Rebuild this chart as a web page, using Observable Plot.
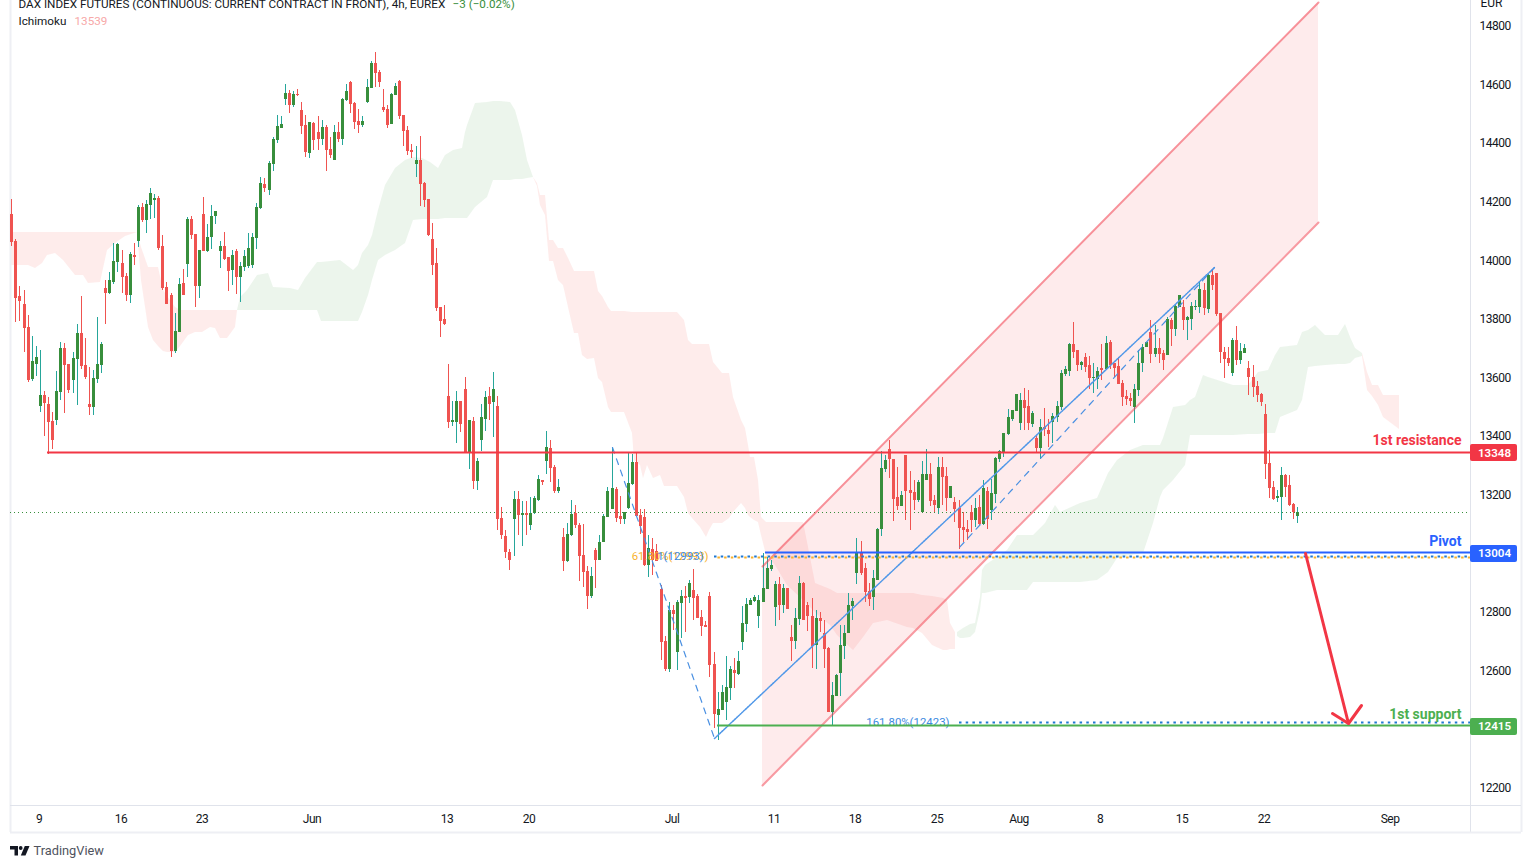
<!DOCTYPE html>
<html>
<head>
<meta charset="utf-8">
<script src="https://cdn.jsdelivr.net/npm/d3@7"></script>
<script src="https://cdn.jsdelivr.net/npm/@observablehq/plot@0.6"></script>
<style>
html,body{margin:0;padding:0;background:#fff;overflow:hidden}
svg{display:block}
g[aria-label="y-axis tick label"] text,g[aria-label="x-axis tick label"] text{letter-spacing:-.5px}
</style>
</head>
<body>
<div id="chart"></div>
<script>
// Candles as [open, high, low, close], one bar per 4h session
const candlesMay = [
[14159,14210,14050,14063],[14067,14074,13790,13872],[13879,13913,13794,13862],[13852,13899,13688,13770],[13773,13814,13586,13592],
[13596,13743,13589,13657],[13647,13708,13606,13671],[13504,13695,13483,13541],[13541,13555,13401,13514],[13511,13534,13340,13449],
[13452,13483,13357,13388],[13456,13623,13439,13555],[13552,13722,13524,13702],[13702,13719,13480,13644],[13647,13647,13548,13558],
[13592,13688,13548,13667],[13664,13784,13507,13753],[13753,13879,13630,13640],[13644,13736,13596,13603],[13511,13637,13473,13500],
[13500,13626,13473,13599],[13596,13807,13582,13647],[13644,13722,13616,13715],[13906,13934,13783,13889],[13889,13961,13885,13934],
[13927,14060,13920,13998],[13995,14060,13961,14056],[13992,14036,13889,13944],[13947,13958,13862,13882],[13882,14029,13855,14022],
[14019,14060,13985,14012],[14067,14190,14046,14183],[14183,14196,14131,14138],[14138,14207,14094,14193],[14190,14247,14142,14230],
[14207,14227,14145,14213],[14213,14220,14036,14043],[14050,14087,13899,13906],[13910,13927,13852,13852],[13882,13889,13671,13691],
[13691,13821,13685,13760],[13756,13940,13756,13920],[13923,13971,13882,13882],[13988,14149,13944,14142],[14142,14152,14074,14087],
[14091,14091,13841,13913],[13913,14036,13872,14036],[14159,14217,14033,14033],[14033,14125,14029,14080],[14080,14190,14039,14152],
[14152,14169,14125,14169],[14033,14067,13975,14050],[14050,14097,14002,14005],[14012,14012,13896,13964],[13968,14036,13917,14019],
[14033,14039,13886,13944],[13944,13995,13859,13981],[13978,14036,13964,14015],[13981,14094,13975,14043],[13985,14094,13975,14080],
[14077,14196,14039,14183],[14179,14285,14176,14265],[14261,14282,14234,14247],[14241,14340,14224,14333],[14329,14422,14305,14415],
[14411,14497,14401,14459],[14452,14493,14452,14466],[14551,14602,14531,14572],[14572,14582,14503,14531],[14531,14578,14524,14568],
[14568,14585,14561,14565],[14514,14541,14432,14459],[14462,14497,14353,14370],[14367,14473,14350,14473]
];
const candlesJune = [
[14469,14472,14378,14411],[14439,14493,14377,14415],[14415,14480,14394,14456],[14456,14462,14305,14377],[14381,14422,14350,14360],
[14343,14462,14343,14439],[14439,14473,14404,14415],[14415,14555,14394,14551],[14548,14602,14544,14578],[14609,14613,14503,14534],
[14537,14541,14449,14473],[14476,14517,14435,14462],[14462,14493,14456,14476],[14541,14619,14537,14592],[14589,14681,14589,14674],
[14674,14712,14592,14640],[14643,14650,14592,14609],[14524,14585,14507,14514],[14517,14531,14452,14462],[14466,14572,14466,14568],
[14565,14606,14565,14596],[14613,14616,14483,14493],[14497,14497,14391,14442],[14445,14459,14360,14374],[14377,14398,14350,14370],
[14329,14391,14285,14343],[14343,14425,14186,14261],[14265,14268,14183,14207],[14210,14210,14084,14087],[14074,14128,13951,13985],
[13992,14043,13828,13838],[13841,13841,13739,13794],[13800,13848,13780,13783],[13538,13647,13429,13449],[13449,13521,13435,13456],
[13449,13555,13377,13521],[13521,13521,13415,13442],[13562,13603,13343,13347],[13347,13456,13289,13456],[13452,13466,13220,13248],
[13248,13326,13217,13316],[13388,13511,13350,13466],[13459,13555,13418,13534],[13538,13569,13456,13511],[13517,13620,13398,13562],
[13504,13538,13081,13118],[13122,13158,13050,13064],[13060,13081,12985,13006],[13006,13015,12944,12978],[13118,13214,12992,13186],
[13186,13214,13064,13132],[13132,13180,13026,13139],[13139,13180,13064,13132],[13098,13193,13081,13139],[13139,13197,13135,13190],
[13183,13268,13180,13255],[13251,13251,13234,13244],[13316,13418,13272,13364],[13360,13388,13244,13292],[13296,13302,13207,13214],
[13214,13255,13207,13227],[13057,13088,12941,12975],[12975,13105,12972,13067],[13064,13183,13060,13135],[13139,13166,13086,13098],
[13098,13105,12907,12992],[12995,13101,12886,12937],[12941,12958,12811,12856],[12856,12955,12849,12924],[13013,13020,12883,12978],
[12978,13064,12978,13040],[13040,13135,13040,13128],[13125,13228,13125,13214],[13152,13363,13152,13224],[13221,13228,13108,13122],
[13128,13197,13101,13118],[13118,13142,13101,13142],[13156,13342,13152,13241],[13238,13340,13234,13313],[13313,13347,13128,13128],
[13132,13151,13067,13094],[13125,13151,12958,12961],[12961,13064,12920,13019],[13016,13053,12927,12978],[13009,13033,12975,12975],
[12879,12893,12637,12699],[12702,12720,12598,12607],[12607,12836,12596,12808]
];
const candlesJuly = [
[12808,12825,12740,12794],[12665,12842,12603,12835],[12832,12876,12711,12856],[12856,12888,12733,12849],[12852,12910,12832,12900],
[12876,12948,12774,12849],[12856,12862,12781,12781],[12784,12808,12719,12753],[12757,12770,12750,12750],[12856,12869,12579,12620],
[12624,12665,12405,12453],[12450,12528,12364,12470],[12467,12552,12467,12528],[12494,12651,12433,12545],[12542,12617,12501,12607],
[12603,12644,12542,12593],[12590,12668,12586,12634],[12699,12821,12671,12763],[12760,12849,12733,12828],[12825,12849,12825,12842],
[12839,12859,12835,12852],[12787,12859,12746,12842],[12835,13001,12835,12883],[12880,12990,12880,12951],[12948,12978,12941,12961],
[12819,12907,12753,12897],[12897,12920,12774,12825],[12825,12897,12798,12883],[12883,12883,12811,12811],[12716,12757,12634,12702],
[12702,12814,12675,12781],[12777,12924,12757,12900],[12900,12903,12774,12774],[12825,12835,12736,12787],[12787,12849,12610,12685],
[12688,12808,12606,12781],[12781,12801,12733,12770],[12729,12774,12610,12675],[12678,12683,12460,12460],[12460,12562,12416,12518],
[12515,12590,12515,12586],[12593,12757,12515,12688],[12685,12757,12641,12729],[12729,12866,12729,12825],[12821,12849,12774,12838],
[12934,13053,12897,13006],[13006,13043,12927,12934],[12951,12967,12836,12869],[12873,12899,12821,12845],[12852,12944,12808,12917],
[12910,13086,12910,13084],[13084,13350,13060,13292],[13289,13337,13279,13320],[13357,13388,13259,13323],[13323,13323,13111,13186],
[13193,13294,13149,13163],[13163,13213,13163,13199],[13336,13336,13115,13214],[13217,13282,13081,13207],[13210,13251,13149,13183],
[13183,13251,13176,13244],[13142,13316,13142,13272],[13251,13357,13251,13272],[13272,13308,13163,13180],[13183,13200,13142,13166],
[13156,13329,13135,13296],[13296,13329,13166,13262],[13265,13296,13145,13190],[13190,13231,13190,13231],[13176,13193,13109,13152],
[13156,13183,13016,13088],[13091,13142,13040,13081],[13084,13115,13047,13074],[13142,13166,13075,13115],[13115,13189,13092,13156],
[13159,13200,13098,13101],[13101,13251,13098,13224],[13214,13229,13083,13118],[13149,13255,13115,13207],[13202,13331,13172,13326],
[13323,13354,13313,13350],[13347,13413,13331,13412],[13408,13493,13405,13466],[13459,13490,13454,13490],[13487,13545,13487,13545]
];
const candlesAugust = [
[13446,13547,13422,13524],[13524,13565,13422,13497],[13504,13558,13422,13446],[13442,13487,13433,13480],[13395,13405,13342,13360],
[13360,13459,13323,13432],[13432,13497,13401,13425],[13422,13459,13365,13408],[13449,13479,13376,13470],[13466,13522,13449,13504],
[13500,13627,13490,13616],[13613,13640,13606,13630],[13623,13718,13606,13715],[13715,13790,13668,13688],[13695,13695,13623,13644],
[13644,13657,13627,13654],[13671,13683,13619,13637],[13644,13674,13561,13599],[13599,13649,13547,13603],[13596,13638,13562,13623],
[13633,13715,13592,13627],[13630,13743,13627,13719],[13722,13729,13630,13644],[13650,13651,13604,13633],[13640,13670,13579,13579],
[13582,13592,13504,13534],[13538,13558,13507,13528],[13531,13547,13504,13521],[13500,13578,13446,13562],[13558,13695,13538,13650],
[13650,13715,13620,13705],[13705,13723,13705,13722],[13756,13797,13652,13681],[13681,13780,13671,13702],[13702,13737,13652,13681],
[13685,13695,13627,13661],[13678,13807,13678,13801],[13797,13803,13708,13766],[13766,13852,13743,13845],[13842,13882,13842,13882],
[13842,13865,13763,13797],[13797,13811,13729,13807],[13801,13860,13763,13845],[13842,13865,13831,13845],[13842,13931,13820,13903],
[13900,13922,13814,13838],[13835,13954,13822,13951],[13951,13971,13900,13917],[13958,13958,13811,13818],[13820,13820,13650,13688],
[13688,13705,13599,13664],[13668,13705,13640,13650],[13616,13736,13606,13729],[13729,13777,13644,13661],[13661,13718,13647,13691],
[13685,13715,13685,13702],[13633,13657,13541,13603],[13603,13644,13536,13569],[13572,13589,13517,13541],[13545,13548,13504,13517],
[13476,13511,13255,13306],[13309,13354,13189,13224],[13227,13248,13183,13186],[13190,13217,13177,13197],[13193,13296,13115,13268],
[13268,13272,13194,13227],[13234,13268,13163,13166],[13169,13172,13118,13142],[13129,13159,13105,13142]
];

// Ichimoku cloud sections as [bar, upper edge, lower edge]
const cloudRedA = [[-0.3,14097,13985],[4.1,14097,13985],[5.8,14097,13975],[7.5,14097,13992],[8.7,14097,14019],[10.7,14097,14026],[12.7,14097,14002],[15.6,14097,13951],[17.6,14097,13951],[18.8,14097,13923],[21.7,14097,13927],[23.4,14097,14036],[25.4,14097,14060],[27.8,14097,14084],[30.8,14097,14097]];
const cloudRedB = [[30.8,14097,14097],[31.8,14046,13934],[33.5,13978,13773],[34.7,13978,13729],[35.9,13978,13708],[37.2,13899,13691],[38.1,13879,13688],[40.1,13841,13688],[41.3,13831,13708],[43.3,13831,13746],[45,13831,13756],[46.7,13831,13756],[48.7,13831,13773],[49.9,13831,13770],[51.1,13831,13736],[52.8,13831,13736],[54.8,13831,13773],[55.3,13831,13831]];
const cloudGreenA = [[55.3,13831,13831],[56,13876,13831],[57.7,13899,13831],[60.2,13951,13831],[62.9,13958,13831],[64.1,13910,13831],[68.3,13906,13831],[70.2,13899,13831],[71.9,13940,13831],[74.9,13995,13831],[75.8,13995,13794],[80.5,14002,13794],[83.7,13968,13794],[84.9,13985,13794],[85.9,14026,13824],[87.4,14053,13882],[88.3,14087,13934],[89.8,14172,14002],[91.5,14258,14019],[94,14316,14036],[96.4,14343,14060],[98.4,14353,14138],[100.6,14350,14142],[102.5,14336,14142],[104.5,14316,14142],[106.2,14360,14145],[108.2,14377,14145],[110.4,14384,14145],[111.1,14439,14145],[111.6,14462,14145],[113.6,14537,14183],[116.5,14541,14217],[118,14544,14275],[119.7,14544,14275],[122.1,14541,14275],[123.4,14514,14278],[125.1,14428,14278],[126.3,14343,14282],[127.8,14285,14285]];
const cloudRedC = [[127.8,14285,14285],[128.8,14265,14254],[129.5,14224,14190],[130.7,14224,14155],[131.7,14070,13998],[132.7,14070,13998],[134,14043,13934],[135.2,14043,13917],[136.4,14009,13841],[137.8,13964,13753],[138.8,13964,13753],[139.8,13964,13678],[141,13964,13664],[142.7,13964,13667],[143.7,13896,13599],[144.7,13879,13586],[146.1,13841,13500],[146.9,13828,13483],[150,13828,13483],[152,13824,13412],[152.5,13824,13319],[154,13824,13302],[154.7,13824,13258],[155.7,13824,13302],[157.2,13824,13258],[158.9,13824,13268],[159.9,13824,13231],[163,13824,13231],[164.8,13797,13193],[165.7,13729,13139],[166.7,13715,13122],[168.7,13715,13091],[170.1,13715,13057],[170.9,13715,13081],[171.8,13654,13105],[174,13616,13105],[175.8,13616,13122],[176.8,13534,13142],[178.7,13456,13173],[179.7,13429,13156],[180.4,13371,13132],[180.9,13330,13125],[181.9,13330,13115],[182.9,13251,13108],[183.6,13125,13064],[184.8,13108,12995],[187,13108,12961],[190,13108,12893],[193.9,13108,12842],[195.1,13023,12825],[196.9,12900,12801],[198,12893,12784],[200.5,12879,12757],[202.2,12866,12722],[206.2,12866,12671],[208.6,12866,12716],[211,12866,12763],[214.5,12866,12774],[219.4,12866,12750],[220.9,12866,12746],[223,12859,12729],[225.5,12855,12688],[228.2,12849,12671],[229.2,12842,12671],[229.9,12763,12675],[231.1,12733,12675]];
const cloudGreenB = [[231.5,12733,12719],[232.4,12739,12712],[233.1,12746,12712],[234.8,12760,12716],[236,12763,12733],[237.2,12852,12808],[237.7,12944,12866],[238.5,12961,12866],[241.4,12988,12876],[243.9,13012,12876],[246.3,13064,12876],[248.8,13064,12876],[250.2,13064,12903],[253.2,13105,12903],[255.6,13166,12903],[256.8,13142,12903],[261.7,13173,12903],[265.9,13190,12910],[268.6,13275,12937],[270.8,13320,12985],[274,13354,12995],[277.2,13371,13002],[279.6,13371,13105],[281.3,13371,13193],[282,13395,13217],[284.5,13500,13251],[287.5,13507,13302],[288.7,13524,13405],[289.9,13534,13405],[291.9,13610,13405],[293.1,13603,13405],[299.2,13575,13405],[302.9,13575,13408],[305.3,13620,13408],[307.8,13627,13412],[309.5,13678,13412],[310.7,13705,13466],[314.9,13712,13490],[316.1,13756,13524],[317.6,13763,13637],[319.3,13780,13640],[321.7,13746,13644],[324.9,13746,13647],[326.6,13784,13647],[327.9,13739,13650],[329.1,13702,13667],[330.8,13685,13674]];
const cloudRedD = [[330.8,13685,13674],[332,13620,13558],[333.2,13575,13538],[334.7,13575,13507],[335.9,13541,13466],[339.8,13541,13425]];

// Drawings
const channelBars = [183.9, 320];
const channelUpper = [12957, 14882];
const channelLower = [12210, 14131];
const swingBars = [147.1, 172.1, 294.6, 231.9];
const swingPrices = [13364, 12371, 13978, 13019];
const levelNames = ["1st resistance", "Pivot", "1st support"];
const levelPrices = [13348, 13004, 12415];
const levelStarts = [8.75, 184.6, 172.8];
const levelColors = ["#f23645", "#2962ff", "#4caf50"];
const levelTextPrices = [13388, 13043, 12453];
const lastClose = 13142;
const fibPrice = 12993, fibOrangePrice = 12988, fibLowPrice = 12424;
const arrowBars = [316.8, 327.4];
const arrowPrices = [13002, 12422];
const arrowHeadBars = [323.5, 327.4, 330.6];
const arrowHeadPrices = [12456, 12422, 12484];

// Axes (13000 and 12400 lie under the price tags in the reference)
const priceTicks = [12200,12600,12800,13200,13400,13600,13800,14000,14200,14400,14600,14800];
const timeTickBars = [7,27,47,74,107,127,162,187,207,227,247,267,287,307,338];
const timeTickLabels = ["9","16","23","Jun","13","20","Jul","11","18","25","Aug","8","15","22","Sep"];

const barsDomain = [-0.32, 357.26];
const priceDomain = [12142.3, 14889];
const outerRightBar = 369.7, outerBottomPrice = 12050, tagEndBar = 368.8;

const candles = [...candlesMay, ...candlesJune, ...candlesJuly, ...candlesAugust]
  .map(([open, high, low, close], i) => ({i, open, high, low, close, up: close >= open}));
const font = "Roboto, 'Liberation Sans', sans-serif";
const cloudRed = "#f44336", cloudGreen = "#43a047";
const fibBlue = "#1e78d2", fibOrange = "#f9b22d", fibTextBlue = "#3d8bdf";
const cloudMark = (rows, fill) => Plot.areaY(rows, {x: d => d[0], y1: d => d[1], y2: d => d[2], fill, fillOpacity: 0.1});
const pairs = (xs, ys) => xs.map((x, k) => ({x, y: ys[k]}));

const logo = () => {
  const g = d3.create("svg:g").attr("transform", "translate(10,846)").attr("fill", "#131722");
  g.append("path").attr("d", "M0 0H8V9.5H4.5V3.5H0Z");
  g.append("circle").attr("cx", 10.7).attr("cy", 2).attr("r", 1.9);
  g.append("path").attr("d", "M14.8 0H19.5L15.5 9.5H10.8Z");
  return g.node();
};

const chart = Plot.plot({
  width: 1523, height: 867,
  marginTop: 0, marginLeft: 10, marginRight: 53, marginBottom: 62,
  style: {background: "#fff", fontFamily: font, overflow: "visible"},
  x: {domain: barsDomain, round: true},
  y: {domain: priceDomain, round: true},
  marks: [
    cloudMark(cloudRedA, cloudRed), cloudMark(cloudRedB, cloudRed), cloudMark(cloudGreenA, cloudGreen),
    cloudMark(cloudRedC, cloudRed), cloudMark(cloudGreenB, cloudGreen), cloudMark(cloudRedD, cloudRed),
    // channel
    Plot.areaY(channelBars.map((x, k) => ({x, a: channelUpper[k], b: channelLower[k]})), {x: "x", y1: "a", y2: "b", fill: "#f23645", fillOpacity: 0.1}),
    // frame
    Plot.ruleX([barsDomain[0]], {y1: priceDomain[1], y2: outerBottomPrice, stroke: "#eeeff4", strokeWidth: 2}),
    Plot.ruleX([barsDomain[1]], {y1: priceDomain[1], y2: outerBottomPrice, stroke: "#e0e3eb"}),
    Plot.ruleX([outerRightBar], {y1: priceDomain[1], y2: outerBottomPrice, stroke: "#eeeff4", strokeWidth: 2}),
    Plot.ruleY([priceDomain[0]], {x1: barsDomain[0], x2: outerRightBar, stroke: "#e0e3eb"}),
    Plot.ruleY([outerBottomPrice], {x1: barsDomain[0], x2: outerRightBar, stroke: "#eeeff4", strokeWidth: 2}),
    // axes lie under the price tags
    Plot.axisY(priceTicks, {anchor: "right", tickSize: 0, tickPadding: 9, label: null, tickFormat: d => String(d), fontSize: 12, fill: "#131722"}),
    Plot.axisX(timeTickBars, {anchor: "bottom", tickSize: 0, tickPadding: 9, dx: -1.5, label: null, tickFormat: d => timeTickLabels[timeTickBars.indexOf(d)], fontSize: 12, fill: "#131722"}),
    Plot.text(["EUR"], {x: 359.7, y: 14879, textAnchor: "start", fill: "#131722", fontSize: 12}),
    // last price
    Plot.ruleY([lastClose], {x1: barsDomain[0], x2: barsDomain[1], stroke: "#388e3c", strokeWidth: 1, strokeDasharray: "1 3"}),
    // candles
    Plot.ruleX(candles, {x: "i", y1: "low", y2: "high", stroke: d => d.up ? "#26a69a" : "#ef5350", strokeWidth: 1}),
    Plot.ruleX(candles, {x: "i", y1: "open", y2: "close", stroke: d => d.up ? "#388e3c" : "#ef5350", strokeWidth: 3}),
    // channel borders
    Plot.line(pairs(channelBars, channelUpper), {x: "x", y: "y", stroke: "#f23645", strokeOpacity: 0.5, strokeWidth: 2}),
    Plot.line(pairs(channelBars, channelLower), {x: "x", y: "y", stroke: "#f23645", strokeOpacity: 0.5, strokeWidth: 2}),
    // fib swings
    Plot.line(pairs(swingBars.slice(0, 2), swingPrices.slice(0, 2)), {x: "x", y: "y", stroke: "#4a90e2", strokeWidth: 1.2, strokeDasharray: "6 6"}),
    Plot.line(pairs(swingBars.slice(1, 3), swingPrices.slice(1, 3)), {x: "x", y: "y", stroke: "#4f97e8", strokeWidth: 1.5, strokeDasharray: "1.5 1"}),
    Plot.line(pairs(swingBars.slice(2, 4), swingPrices.slice(2, 4)), {x: "x", y: "y", stroke: "#4a90e2", strokeWidth: 1.2, strokeDasharray: "6 6"}),
    // fib levels
    Plot.ruleY([fibPrice], {x1: 172, x2: barsDomain[1], stroke: fibBlue, strokeWidth: 2, strokeDasharray: "2.5 4.2"}),
    Plot.ruleY([fibOrangePrice], {x1: 172, x2: barsDomain[1], stroke: fibOrange, strokeWidth: 2, strokeDasharray: "2.5 4.2", strokeDashoffset: 3.3}),
    Plot.ruleY([fibLowPrice], {x1: 232, x2: barsDomain[1], stroke: fibBlue, strokeWidth: 2, strokeDasharray: "2.5 4.2"}),
    Plot.text(["61.80%(12993)"], {x: 170.6, y: 12992, textAnchor: "end", fill: fibOrange, fontSize: 11.4}),
    Plot.text(["1(12993)"], {x: 169.4, y: 12992, textAnchor: "end", fill: fibTextBlue, fontSize: 11.4}),
    Plot.text(["161.80%(12423)"], {x: 229.7, y: 12426, textAnchor: "end", fill: fibTextBlue, fontSize: 11.4}),
    // levels
    ...levelPrices.map((p, k) => Plot.ruleY([p], {x1: levelStarts[k], x2: barsDomain[1], stroke: levelColors[k], strokeWidth: 2})),
    ...levelPrices.map((p, k) => Plot.rect([p], {x1: barsDomain[1], x2: tagEndBar, y1: p - 29, y2: p + 29, dy: 1, fill: levelColors[k], rx: 2})),
    ...levelPrices.map((p, k) => Plot.text([String(p)], {x: (barsDomain[1] + tagEndBar) / 2, y: p, dy: 1, fill: "#fff", fontSize: 11.6, fontWeight: 600})),
    ...levelNames.map((name, k) => Plot.text([name], {x: 355.1, y: levelTextPrices[k], textAnchor: "end", fill: levelColors[k], fontSize: 14, fontWeight: 700})),
    // arrow
    Plot.line(pairs(arrowBars, arrowPrices), {x: "x", y: "y", stroke: "#f23645", strokeWidth: 3}),
    Plot.line(pairs(arrowHeadBars, arrowHeadPrices), {x: "x", y: "y", stroke: "#f23645", strokeWidth: 3, strokeLinejoin: "miter"}),
    // header
    Plot.text(["DAX INDEX FUTURES (CONTINUOUS: CURRENT CONTRACT IN FRONT), 4h, EUREX"], {frameAnchor: "top-left", dx: 8, dy: 4, lineAnchor: "middle", fill: "#131722", fontSize: 11.7}),
    Plot.text(["\u22123 (\u22120.02%)"], {frameAnchor: "top-left", dx: 442, dy: 4, lineAnchor: "middle", fill: "#388e3c", fontSize: 11.7}),
    Plot.text(["Ichimoku"], {frameAnchor: "top-left", dx: 8, dy: 21, lineAnchor: "middle", fill: "#131722", fontSize: 11.7}),
    Plot.text(["13539"], {frameAnchor: "top-left", dx: 64, dy: 21, lineAnchor: "middle", fill: "#f7a8a8", fontSize: 11.7}),
    // footer
    logo,
    Plot.text(["TradingView"], {frameAnchor: "bottom-left", dx: 23, dy: 45, lineAnchor: "middle", fill: "#50535e", fontSize: 12.8})
  ]
});
document.getElementById("chart").appendChild(chart);
</script>
</body>
</html>
